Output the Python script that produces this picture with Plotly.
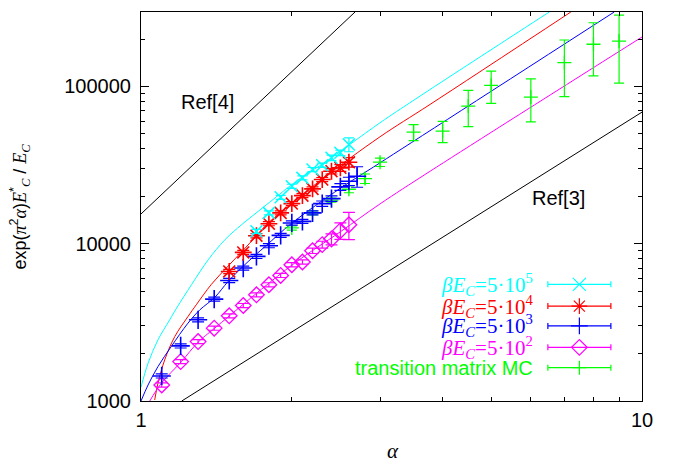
import plotly.graph_objects as go
import numpy as np

# ---------------- data ----------------
# beta*E_C = 5e5 (cyan)
cyan_alpha = [1.7, 1.8, 1.9, 2.0, 2.1, 2.2, 2.3, 2.4, 2.5, 2.6]
cyan_y = [11980, 15700, 19720, 23170, 26200, 29600, 31540, 35140, 37830, 42720]
cyan_err = [360, 470, 590, 700, 790, 890, 950, 1400, 1500, 4300]
cyan_curve_alpha = [1.000, 1.033, 1.081, 1.141, 1.178, 1.262, 1.362, 1.471, 1.588, 1.714, 1.852, 2.0,
                    2.158, 2.295, 3.0, 3.523, 6.53]
cyan_curve_y = [1222, 1738, 2446, 3281, 3900, 5500, 7900, 10600, 13210, 16060, 19550, 23750,
                28200, 31860, 58700, 82650, 297000]

# beta*E_C = 5e4 (red)
red_alpha = [1.5, 1.6, 1.7, 1.8, 1.9, 2.0, 2.1, 2.2, 2.3, 2.4, 2.5, 2.6]
red_y = [6660, 8800, 11240, 13400, 15700, 17980, 20210, 22300, 25570, 28880, 30350, 32950]
red_err = [200, 260, 340, 400, 470, 540, 610, 670, 770, 1150, 1500, 2300]
red_curve_alpha = [1.065, 1.081, 1.115, 1.168, 1.241, 1.289, 1.381, 1.492, 1.598, 1.699, 1.793, 2.0, 2.3,
                   3.0, 3.776, 7.21]
red_curve_y = [1015, 1296, 1824, 2568, 3443, 4086, 5500, 7200, 9060, 11200, 13500, 18000, 25800,
               47830, 76800, 297000]

# beta*E_C = 5e3 (blue)
blue_alpha = [1.1, 1.2, 1.3, 1.4, 1.5, 1.6, 1.7, 1.8, 1.9, 2.0, 2.1, 2.2, 2.3, 2.4, 2.5, 2.6, 2.7]
blue_y = [1443, 2240, 3281, 4444, 5838, 7000, 8300, 9710, 11300, 13550, 13870, 15700, 17980, 19350,
          22970, 24940, 26840]
blue_err = [43, 67, 98, 133, 175, 210, 250, 290, 340, 410, 420, 470, 700, 770, 1150, 1500, 4000]
blue_curve_alpha = [1.000, 1.033, 1.081, 1.149, 1.241, 1.311, 1.403, 1.492, 1.598, 1.686, 1.779, 2.0,
                    2.5, 3.0, 8.80]
blue_curve_y = [1000, 1264, 1654, 2218, 3125, 3800, 4550, 5750, 7170, 8390, 9750, 13500,
                22500, 32660, 297000]

# beta*E_C = 5e2 (magenta)
mag_alpha = [1.1, 1.2, 1.3, 1.4, 1.5, 1.6, 1.7, 1.8, 1.9, 2.0, 2.1, 2.2, 2.3, 2.4, 2.5, 2.6]
mag_y = [1264, 1780, 2386, 2904, 3479, 4046, 4732, 5480, 6285, 7350, 7650, 9020, 9860, 10700, 12100, 13200]
mag_err = [38, 53, 72, 87, 104, 121, 142, 164, 190, 220, 230, 360, 500, 860, 1450, 2600]
mag_curve_alpha = [1.041, 1.098, 1.204, 1.300, 1.403, 2.0, 2.5, 3.0, 3.776, 10.0]
mag_curve_y = [1000, 1296, 1780, 2365, 2904, 7300, 11900, 17900, 28870, 206000]

# transition matrix MC (green)
green_alpha = [2.0, 2.2, 2.4, 2.6, 2.8, 3.0, 3.5, 4.0, 4.5, 5.0, 6.0, 7.0, 8.0, 9.0]
green_y = [12590, 15700, 18920, 22180, 25940, 32950, 51170, 51900, 74900, 101500, 85500, 141600,
           185200, 194200]
green_err = [380, 470, 570, 1100, 1800, 2000, 6000, 8000, 19500, 23500, 26000, 55600, 68500, 89400]

# reference lines
ref4_alpha = [1.0, 2.674]
ref4_y = [15450, 297000]
ref3_alpha = [1.206, 10.0]
ref3_y = [1000, 68600]

legend_labels = ["5·10<sup>5</sup>", "5·10<sup>4</sup>", "5·10<sup>3</sup>", "5·10<sup>2</sup>"]

# ---------------- figure ----------------
CYAN, RED, BLUE, MAG, GREEN = "#00ffff", "#ff0000", "#0000ff", "#ff00ff", "#00ff00"
SANS = "Liberation Sans, Arial, sans-serif"
SERIF = "Liberation Serif, Times New Roman, serif"

fig = go.Figure()

def line(x, y, color, shape="linear"):
    fig.add_trace(go.Scatter(x=x, y=y, mode="lines",
                             line=dict(color=color, width=1, shape=shape, smoothing=1.0),
                             showlegend=False, hoverinfo="skip"))

line(ref4_alpha, ref4_y, "black")
line(ref3_alpha, ref3_y, "black")
line(cyan_curve_alpha, cyan_curve_y, CYAN, "spline")
line(red_curve_alpha, red_curve_y, RED, "spline")
line(blue_curve_alpha, blue_curve_y, BLUE, "spline")
line(mag_curve_alpha, mag_curve_y, MAG, "spline")

def pts(x, y, err, color, symbol, size, capw, lw):
    fig.add_trace(go.Scatter(
        x=x, y=y, mode="markers",
        marker=dict(symbol=symbol, size=size, color=color, line=dict(color=color, width=lw)),
        error_y=dict(type="data", array=err, visible=True, color=color, thickness=1.2, width=capw),
        showlegend=False, hoverinfo="skip"))

pts(green_alpha, green_y, green_err, GREEN, "cross-thin-open", 10, 5, 1.3)
pts(mag_alpha, mag_y, mag_err, MAG, "diamond-open", 12, 6, 1.3)
pts(blue_alpha, blue_y, blue_err, BLUE, "cross-thin-open", 13, 6, 1.6)
pts(red_alpha, red_y, red_err, RED, "asterisk-open", 14, 6, 1.6)
pts(cyan_alpha, cyan_y, cyan_err, CYAN, "x-thin-open", 12, 5, 1.5)

# ---------------- legend (overlay axes in [0,1]) ----------------
leg_colors = [CYAN, RED, BLUE, MAG, GREEN]
leg_symbols = ["x-thin-open", "asterisk-open", "cross-thin-open", "diamond-open", "cross-thin-open"]
leg_sizes = [13, 13, 12, 12, 10]
leg_y = [0.300, 0.244, 0.193, 0.138, 0.0856]
for c, s, sz, yy in zip(leg_colors, leg_symbols, leg_sizes, leg_y):
    fig.add_trace(go.Scatter(
        x=[0.875], y=[yy], xaxis="x2", yaxis="y2", mode="markers",
        marker=dict(symbol=s, size=sz, color=c, line=dict(color=c, width=1.2)),
        error_x=dict(type="constant", value=0.0629, color=c, thickness=1.2, width=3),
        showlegend=False, hoverinfo="skip"))

annotations = []
for lab, c, yy in zip(legend_labels, leg_colors[:4], leg_y[:4]):
    annotations.append(dict(
        xref="paper", yref="paper", x=0.786, y=yy, xanchor="right", yanchor="middle",
        text="<i>βE</i><sub><i>C</i></sub>=" + lab, showarrow=False,
        font=dict(family=SERIF, size=21, color=c)))
annotations.append(dict(
    xref="paper", yref="paper", x=0.786, y=leg_y[4], xanchor="right", yanchor="middle",
    text="transition matrix MC", showarrow=False, font=dict(family=SANS, size=20, color=GREEN)))

annotations.append(dict(xref="paper", yref="paper", x=0.1337, y=0.769, text="Ref[4]",
                        xanchor="center", yanchor="middle",
                        showarrow=False, font=dict(family=SANS, size=20, color="black")))
annotations.append(dict(xref="paper", yref="paper", x=0.8337, y=0.521, text="Ref[3]",
                        xanchor="center", yanchor="middle",
                        showarrow=False, font=dict(family=SANS, size=20, color="black")))

ser = "font-family:Liberation Serif"
ytitle = ("exp(<span style='%s'><i>π</i></span><sup>2</sup><span style='%s'><i>α</i></span>)"
          "<span style='%s'><i>E</i></span><sup>*</sup><sub><span style='%s'><i>C</i></span></sub>"
          " / <span style='%s'><i>E</i></span><sub><span style='%s'><i>C</i></span></sub>") % ((ser,) * 6)
annotations.append(dict(xref="paper", yref="paper", x=-0.2415, y=0.5, text=ytitle, textangle=-90,
                        showarrow=False, xanchor="center", yanchor="middle",
                        font=dict(family=SANS, size=18, color="black")))
annotations.append(dict(xref="paper", yref="paper", x=0.503, y=-0.128, text="<i>α</i>",
                        xanchor="center", yanchor="middle",
                        showarrow=False, font=dict(family=SERIF, size=21, color="black")))

minor_x = [2, 3, 4, 5, 6, 7, 8, 9]
minor_y = [k * 10 ** e for e in (3, 4, 5) for k in range(2, 10)]

fig.update_layout(
    width=673, height=462,
    margin=dict(l=141, r=31, t=12, b=61),
    paper_bgcolor="white", plot_bgcolor="white",
    font=dict(family=SANS, size=20, color="black"),
    xaxis=dict(type="log", range=[0, 1], tickmode="array", tickvals=[1, 10], ticktext=["1", "10"],
               ticks="inside", ticklen=8, tickwidth=1, tickcolor="black",
               showline=True, linecolor="black", linewidth=1, mirror="allticks",
               showgrid=False, zeroline=False, ticklabelstandoff=1,
               minor=dict(tickmode="array", tickvals=minor_x, ticks="inside", ticklen=4,
                          tickcolor="black", tickwidth=1, showgrid=False)),
    yaxis=dict(type="log", range=[3, np.log10(297000)], tickmode="array",
               tickvals=[1000, 10000, 100000], ticktext=["1000", "10000", "100000"],
               ticks="inside", ticklen=8, tickwidth=1, tickcolor="black",
               showline=True, linecolor="black", linewidth=1, mirror="allticks",
               showgrid=False, zeroline=False, ticklabelstandoff=5,
               minor=dict(tickmode="array", tickvals=minor_y, ticks="inside", ticklen=4,
                          tickcolor="black", tickwidth=1, showgrid=False)),
    xaxis2=dict(overlaying="x", range=[0, 1], visible=False, anchor="y2"),
    yaxis2=dict(overlaying="y", range=[0, 1], visible=False, anchor="x2"),
    annotations=annotations,
    showlegend=False,
)

fig.write_html("out.html", config={"displayModeBar": False, "staticPlot": True})

# remove the browser's default body margin so the figure sits at the window's corner
with open("out.html", encoding="utf-8") as f:
    html = f.read()
html = html.replace("<head>", "<head><style>html,body{margin:0;padding:0;overflow:hidden}</style>", 1)
with open("out.html", "w", encoding="utf-8") as f:
    f.write(html)
